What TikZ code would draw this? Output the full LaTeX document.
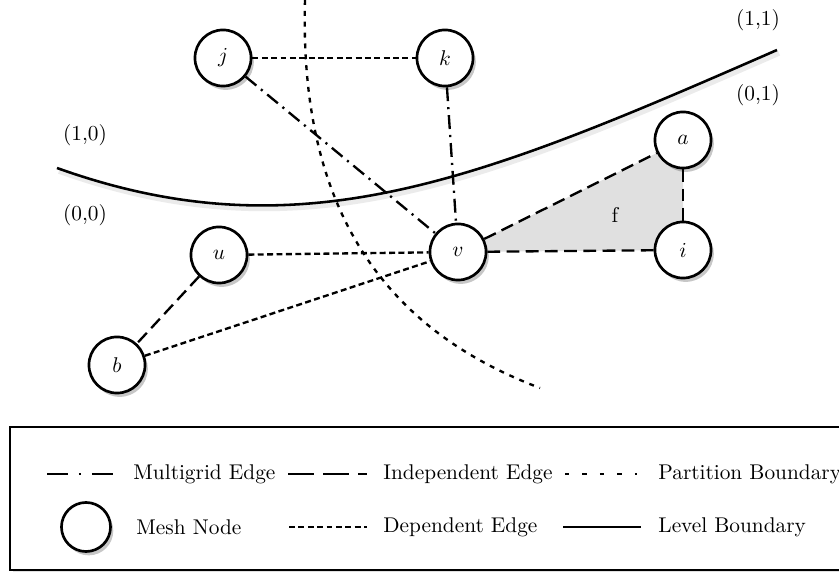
\documentclass[tikz,border=0pt]{standalone}
\usetikzlibrary{shadows,backgrounds}
\begin{document}
\begin{tikzpicture}[x=0.469pt,y=-0.469pt,
  meshnode/.style={circle,draw,line width=1.25pt,fill=white,minimum size=26.3pt,inner sep=0pt,
    drop shadow={shadow xshift=1.3pt,shadow yshift=-1.8pt,fill=black,opacity=0.22}},
  legendnode/.style={meshnode,minimum size=23pt},
  multigrid/.style={line width=1.1pt,dash pattern=on 6.5pt off 2.8pt on 1pt off 2.8pt},
  independent/.style={line width=1.1pt,dash pattern=on 6pt off 3pt},
  dependent/.style={line width=1.1pt,dash pattern=on 2.8pt off 1.6pt},
  partition/.style={line width=1.1pt,dash pattern=on 2.3pt off 2.8pt},
  levelbound/.style={line width=1.2pt},
  lgmultigrid/.style={line width=1.1pt,dash pattern=on 10pt off 5pt on 1pt off 5pt},
  lgindependent/.style={line width=1.1pt,dash pattern=on 12pt off 4.5pt},
  lgpartition/.style={line width=1.1pt,dash pattern=on 2pt off 6.2pt},
  lgtext/.style={anchor=west,inner sep=0pt},
  coordlabel/.style={font=\normalsize}]
\useasboundingbox (0,0) rectangle (839,572);

% level boundary with its soft shadow
\draw[line width=2.6pt,black,opacity=0.08] (59,171) .. controls (302,258) and (482,183) .. (779,53);
\draw[levelbound] (57,168) .. controls (300,255) and (480,180) .. (777,50);

% partition boundary
\draw[partition] (305,0) .. controls (300,180) and (360,320) .. (540,388);

% mesh nodes
\node[meshnode] (j) at (223,58) {$j$};
\node[meshnode] (k) at (445,58) {$k$};
\node[meshnode] (v) at (458,252) {$v$};
\node[meshnode] (a) at (683,140) {$a$};
\node[meshnode] (i) at (683,250) {$i$};
\node[meshnode] (u) at (219,255) {$u$};
\node[meshnode] (b) at (117,365) {$b$};

% shaded face
\begin{scope}[on background layer]
  \fill[black!12] (v.center) -- (a.center) -- (i.center) -- cycle;
\end{scope}
\node (f) at (615,215) {f};

% edges
\draw[multigrid] (j) -- (v);
\draw[multigrid] (k) -- (v);
\draw[dependent] (j) -- (k);
\draw[dependent] (u) -- (v);
\draw[dependent] (b) -- (v);
\draw[independent] (u) -- (b);
\draw[independent] (v) -- (a);
\draw[independent] (v) -- (i);
\draw[independent] (a) -- (i);

% level coordinates
\node[coordlabel] (c11) at (758,20) {(1,1)};
\node[coordlabel] (c01) at (758,95) {(0,1)};
\node[coordlabel] (c10) at (85,135) {(1,0)};
\node[coordlabel] (c00) at (85,215) {(0,0)};

% legend
\fill[black,opacity=0.12] (13,431) rectangle (860,574);
\draw[line width=1.2pt,fill=white] (10,427) rectangle (855,570);

\coordinate (m1) at (47,474);  \coordinate (m2) at (117,474);
\draw[lgmultigrid] (m1) -- (m2);
\node[lgtext] (tm) at (133,474) {Multigrid Edge};

\coordinate (n1) at (288,474); \coordinate (n2) at (367,474);
\draw[lgindependent] (n1) -- (n2);
\node[lgtext] (tn) at (383,474) {Independent Edge};

\coordinate (p1) at (565,474); \coordinate (p2) at (637,474);
\draw[lgpartition] (p1) -- (p2);
\node[lgtext] (tp) at (658,474) {Partition Boundary};

\node[legendnode] (lg) at (86,527) {};
\node[lgtext] (tg) at (136,527) {Mesh Node};

\coordinate (d1) at (289,527); \coordinate (d2) at (367,527);
\draw[dependent] (d1) -- (d2);
\node[lgtext] (td) at (383,527) {Dependent Edge};

\coordinate (l1) at (563,527); \coordinate (l2) at (641,527);
\draw[levelbound] (l1) -- (l2);
\node[lgtext] (tl) at (658,527) {Level Boundary};
\end{tikzpicture}
\end{document}
